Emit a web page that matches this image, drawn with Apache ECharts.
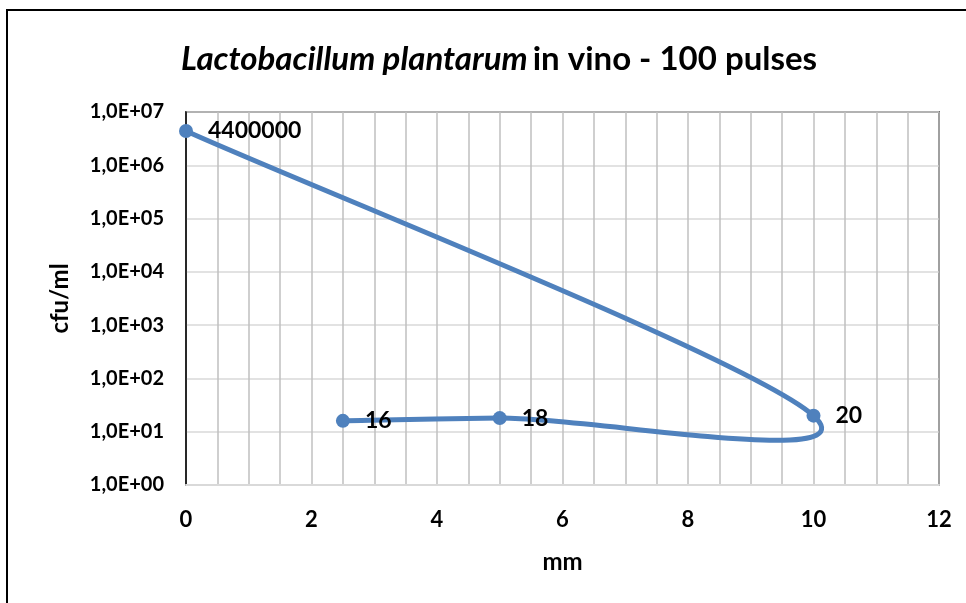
<!DOCTYPE html>
<html>
<head>
<meta charset="utf-8">
<script src="https://cdn.jsdelivr.net/npm/echarts@6/dist/echarts.min.js"></script>
<style>
  html, body { margin: 0; padding: 0; background: #fff; }
  #chart { width: 966px; height: 603px; }
  #frame { position: absolute; left: 6px; top: 9px; width: 980px; height: 620px;
           border: 2px solid #000; pointer-events: none; }
</style>
</head>
<body>
<div id="chart"></div>
<div id="frame"></div>
<script>
// distance (mm) and cell count (cfu/ml), in the order the curve is drawn
var distances = [0, 10, 5, 2.5];
var counts = [4400000, 20, 18, 16];
var pointLabels = ['4400000', '20', '18', '16'];

var FONT = 'Lato, "Open Sans", sans-serif';
var BLUE = '#4f81bd';
// spreadsheet-style smoothing: bezier handles at this share of the neighbour vector
var TENSION = 0.19;

function expLabel(v) {
    var e = Math.round(Math.log10(v));
    return '1,0E+' + (e < 10 ? '0' + e : e);
}

var myChart = echarts.init(document.getElementById('chart'));

var points = [];
for (var i = 0; i < distances.length; i++) {
    points.push({ value: [distances[i], counts[i]], label: { formatter: pointLabels[i] } });
}

// draws the whole smoothed curve once, from the axis-mapped data positions
function renderCurve(params, api) {
    if (params.dataIndex !== 0) return null;
    var p = [];
    for (var j = 0; j < distances.length; j++) {
        p.push(api.coord([distances[j], counts[j]]));
    }
    var n = p.length;
    var children = [];
    for (var s = 0; s < n - 1; s++) {
        var p0 = p[Math.max(s - 1, 0)];
        var p1 = p[s];
        var p2 = p[s + 1];
        var p3 = p[Math.min(s + 2, n - 1)];
        children.push({
            type: 'bezierCurve',
            shape: {
                x1: p1[0], y1: p1[1],
                x2: p2[0], y2: p2[1],
                cpx1: p1[0] + (p2[0] - p0[0]) * TENSION,
                cpy1: p1[1] + (p2[1] - p0[1]) * TENSION,
                cpx2: p2[0] - (p3[0] - p1[0]) * TENSION,
                cpy2: p2[1] - (p3[1] - p1[1]) * TENSION,
            },
            style: { stroke: BLUE, lineWidth: 5, fill: null, lineCap: 'round' },
        });
    }
    return { type: 'group', children: children };
}

var option = {
    animation: false,
    title: {
        text: '{it|Lactobacillum plantarum} {n|in vino - 100 pulses}',
        left: 494,
        textAlign: 'center',
        top: 38,
        textStyle: {
            rich: {
                it: { fontFamily: FONT, fontSize: 33, fontWeight: 'bold', fontStyle: 'italic', color: '#000' },
                n: { fontFamily: FONT, fontSize: 33, fontWeight: 'bold', color: '#000' },
            },
        },
    },
    grid: {
        left: 186,
        right: 27,
        top: 112,
        bottom: 118,
        show: true,
        borderColor: '#000',
        borderWidth: 1.5,
    },
    xAxis: {
        type: 'value',
        min: 0,
        max: 12,
        interval: 2,
        name: 'mm',
        nameLocation: 'middle',
        nameGap: 65,
        nameTextStyle: { fontFamily: FONT, fontSize: 24, fontWeight: 'bold', color: '#000' },
        axisLine: { show: true, lineStyle: { color: '#d9d9d9', width: 2 } },
        axisTick: { show: false },
        axisLabel: { fontFamily: FONT, fontSize: 22, fontWeight: 'bold', color: '#000', margin: 24 },
        splitLine: { show: true, lineStyle: { color: '#c0c0c0', width: 1.5 } },
        minorTick: { show: false, splitNumber: 4 },
        minorSplitLine: { show: true, lineStyle: { color: '#c0c0c0', width: 1.5 } },
    },
    yAxis: {
        type: 'log',
        logBase: 10,
        min: 1,
        max: 10000000,
        name: 'cfu/ml',
        nameLocation: 'middle',
        nameGap: 114,
        nameRotate: 90,
        nameTextStyle: { fontFamily: FONT, fontSize: 24, fontWeight: 'bold', color: '#000' },
        axisLine: { show: true, lineStyle: { color: '#000', width: 1.5 } },
        axisTick: { show: false },
        axisLabel: { fontFamily: FONT, fontSize: 20, fontWeight: 'bold', color: '#000', margin: 22, formatter: expLabel },
        splitLine: { show: true, lineStyle: { color: '#d9d9d9', width: 1.5 } },
    },
    series: [
        {
            type: 'custom',
            z: 2,
            renderItem: renderCurve,
            data: points.map(function (d) { return d.value; }),
            silent: true,
        },
        {
            type: 'scatter',
            z: 3,
            data: points,
            symbol: 'circle',
            symbolSize: 14,
            itemStyle: { color: BLUE, opacity: 1 },
            label: {
                show: true,
                position: 'right',
                distance: 15,
                fontFamily: FONT,
                fontSize: 23,
                fontWeight: 'bold',
                color: '#000',
            },
        },
    ],
};

myChart.setOption(option);
</script>
</body>
</html>
